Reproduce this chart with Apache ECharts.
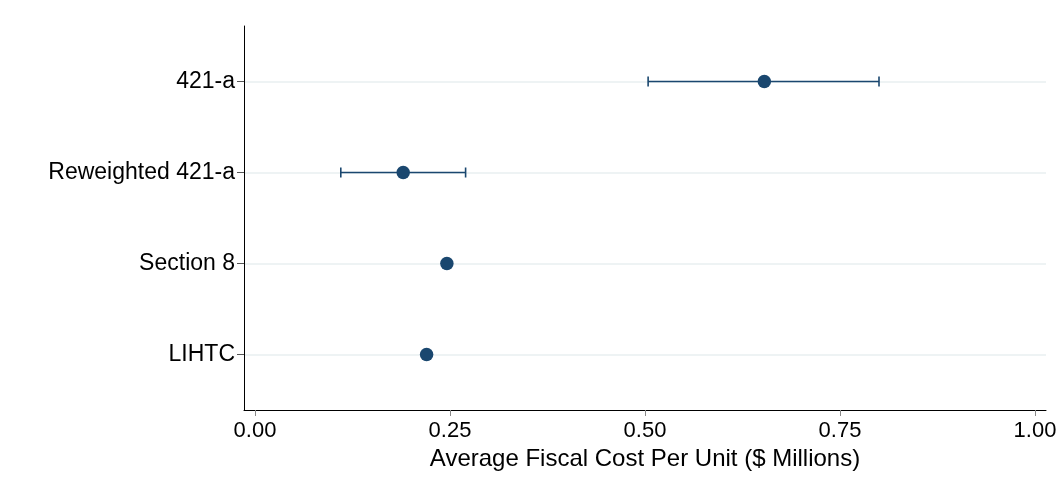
<!DOCTYPE html>
<html>
<head>
<meta charset="utf-8">
<script src="https://cdn.jsdelivr.net/npm/echarts@6/dist/echarts.min.js"></script>
<style>html,body{margin:0;padding:0;background:#fff}#c{width:1064px;height:487px}</style>
</head>
<body>
<div id="c"></div>
<script>
// Data (top to bottom)
const categories = ['421-a', 'Reweighted 421-a', 'Section 8', 'LIHTC'];
const pointValues = [0.653, 0.190, 0.246, 0.220];
const ciLow = [0.504, 0.110, null, null];
const ciHigh = [0.800, 0.270, null, null];
const xTickValues = [0, 0.25, 0.5, 0.75, 1.0];

const n = categories.length;
const posOf = i => n - i; // 421-a at top
const pointData = pointValues.map((v, i) => [v, posOf(i)]);
const ciData = [];
categories.forEach((c, i) => { if (ciLow[i] != null) ciData.push([ciLow[i], ciHigh[i], posOf(i)]); });
const yPositions = categories.map((c, i) => posOf(i));

const color = '#1a476f';
const font = 'Liberation Sans, Arial, Helvetica, sans-serif';

const chart = echarts.init(document.getElementById('c'), null, {renderer: 'canvas'});
chart.setOption({
  animation: false,
  backgroundColor: '#fff',
  grid: {left: 244, right: 18, top: 26, bottom: 77, containLabel: false},
  xAxis: {
    type: 'value',
    min: -0.0141, max: 1.0141,
    name: 'Average Fiscal Cost Per Unit ($ Millions)',
    nameLocation: 'middle',
    nameGap: 35,
    nameTextStyle: {color: '#000', fontSize: 24, fontFamily: font},
    axisLine: {show: true, onZero: false, lineStyle: {color: '#000', width: 1}},
    axisTick: {show: true, length: 6, customValues: xTickValues, lineStyle: {color: '#888', width: 1}},
    axisLabel: {customValues: xTickValues, color: '#000', fontSize: 22, fontFamily: font, margin: 10,
      formatter: v => v.toFixed(2)},
    splitLine: {show: false}
  },
  yAxis: {
    type: 'value',
    min: 0.39, max: 4.61,
    axisLine: {show: true, onZero: false, lineStyle: {color: '#000', width: 1}},
    axisTick: {show: true, length: 7, customValues: yPositions, lineStyle: {color: '#555', width: 1}},
    axisLabel: {customValues: yPositions, color: '#000', fontSize: 23, fontFamily: font, margin: 9,
      padding: [3, 0, 0, 0],
      formatter: v => categories[n - Math.round(v)]},
    splitLine: {show: true, lineStyle: {color: '#e8eff0', width: 1.5}}
  },
  series: [
    {
      type: 'custom',
      data: ciData,
      encode: {x: [0, 1], y: 2},
      renderItem: function (params, api) {
        const y = api.value(2);
        const p1 = api.coord([api.value(0), y]);
        const p2 = api.coord([api.value(1), y]);
        const h = 5;
        const style = {stroke: color, lineWidth: 1.6};
        return {
          type: 'group',
          children: [
            {type: 'line', shape: {x1: p1[0], y1: p1[1], x2: p2[0], y2: p2[1]}, style},
            {type: 'line', shape: {x1: p1[0], y1: p1[1] - h, x2: p1[0], y2: p1[1] + h}, style},
            {type: 'line', shape: {x1: p2[0], y1: p2[1] - h, x2: p2[0], y2: p2[1] + h}, style}
          ]
        };
      },
      z: 2
    },
    {
      type: 'scatter',
      data: pointData,
      symbol: 'circle',
      symbolSize: 13.5,
      itemStyle: {color: color, opacity: 1},
      z: 3
    }
  ]
});
</script>
</body>
</html>
